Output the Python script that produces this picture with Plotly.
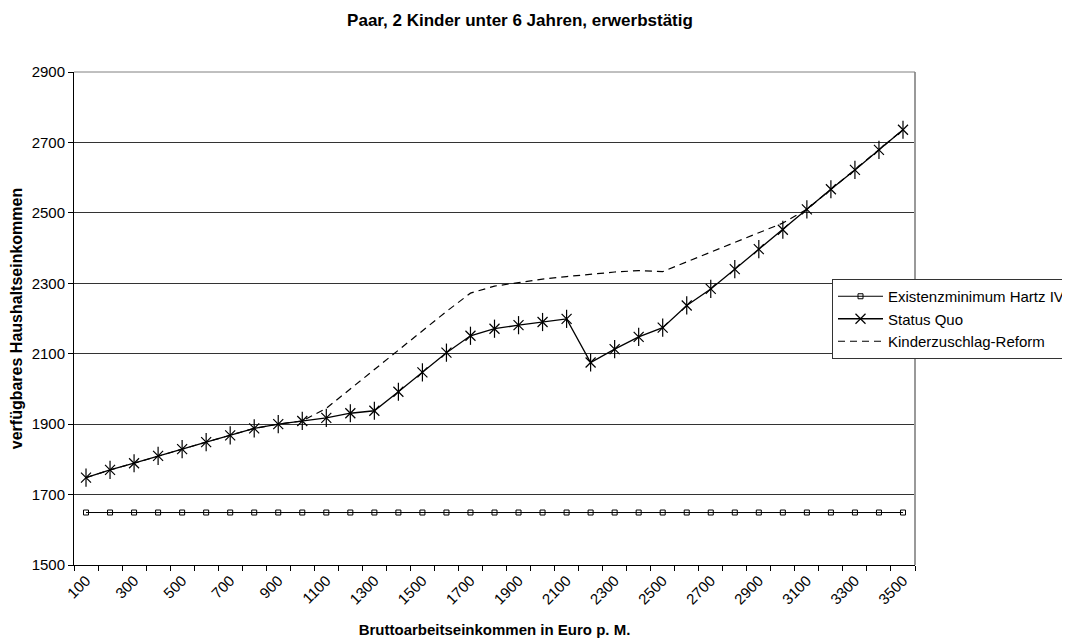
import plotly.graph_objects as go

categories = [str(v) for v in range(100, 3600, 100)]

hartz_iv = [1649] * 35

status_quo = [1748, 1770, 1789, 1810, 1829, 1849, 1868, 1888, 1900, 1909,
              1918, 1931, 1938, 1992, 2047, 2103, 2151, 2171, 2181, 2190,
              2199, 2075, 2113, 2148, 2174, 2237, 2284, 2340, 2397, 2452,
              2510, 2567, 2622, 2679, 2736]

reform = [1748, 1770, 1789, 1810, 1829, 1849, 1868, 1888, 1900, 1909,
          1945, 2000, 2055, 2110, 2165, 2220, 2272, 2292, 2302, 2312,
          2319, 2326, 2332, 2336, 2333, 2361, 2388, 2416, 2443, 2471,
          2510, 2567, 2622, 2679, 2736]

y_ticks = [1500, 1700, 1900, 2100, 2300, 2500, 2700, 2900]

xpos = list(range(len(categories)))
label_pos = xpos[::2]
label_text = categories[::2]

FONT = "Liberation Sans, Arial, sans-serif"

# page body has an 8px default margin; figure is offset accordingly
W, H = 1062, 634
L, T, R, B = 66, 64, 155, 77

fig = go.Figure()

fig.add_trace(go.Scatter(
    x=xpos, y=hartz_iv, mode="lines+markers", name="Existenzminimum Hartz IV",
    legendrank=1,
    line=dict(color="black", width=1),
    marker=dict(symbol="square-open", size=5, color="black", line=dict(width=1, color="black")),
))
fig.add_trace(go.Scatter(
    x=xpos, y=reform, mode="lines", name="Kinderzuschlag-Reform",
    legendrank=3,
    line=dict(color="black", width=1.2, dash="7px,5px"),
))
fig.add_trace(go.Scatter(
    x=xpos, y=status_quo, mode="lines+markers", name="Status Quo",
    legendrank=2,
    line=dict(color="black", width=1.3),
    marker=dict(symbol="x-thin-open", size=10, color="black", line=dict(width=1.2, color="black")),
))
fig.add_trace(go.Scatter(
    x=xpos, y=status_quo, mode="markers", showlegend=False, hoverinfo="skip",
    marker=dict(symbol="line-ns-open", size=13, color="black", line=dict(width=1.2, color="black")),
))

pw = W - L - R
ph = H - T - B

fig.update_layout(
    width=W, height=H,
    margin=dict(l=L, r=R, t=T, b=B, autoexpand=False),
    paper_bgcolor="white", plot_bgcolor="white",
    font=dict(family=FONT, size=15, color="black"),
    title=dict(text="<b>Paar, 2 Kinder unter 6 Jahren, erwerbstätig</b>",
               x=(520 - 8) / W, xanchor="center", y=1 - (20 - 8) / H, yanchor="middle",
               font=dict(family=FONT, size=17, color="black")),
    showlegend=True,
    legend=dict(x=(832 - 74) / pw, y=(565 - 279) / ph, xanchor="left", yanchor="top",
                bgcolor="white", bordercolor="#333", borderwidth=1,
                font=dict(family=FONT, size=15, color="black"),
                itemwidth=45, traceorder="normal"),
)

fig.update_xaxes(
    range=[-0.5, len(categories) - 0.5],
    tickmode="array", tickvals=label_pos, ticktext=label_text, tickangle=-45,
    ticks="", showgrid=False, zeroline=False,
    showline=True, linecolor="black", linewidth=1,
    tickfont=dict(family=FONT, size=15),
    minor=dict(tickmode="array", tickvals=[p - 0.5 for p in xpos] + [xpos[-1] + 0.5],
               ticks="outside", ticklen=5, tickcolor="black", showgrid=False),
    title=dict(text="<b>Bruttoarbeitseinkommen in Euro p. M.</b>", standoff=17,
               font=dict(family=FONT, size=15)),
)
fig.update_yaxes(
    range=[1500, 2900], tickmode="array", tickvals=y_ticks,
    ticks="outside", ticklen=5, tickcolor="black",
    showgrid=True, gridcolor="#333", gridwidth=1, zeroline=False,
    showline=True, linecolor="black", linewidth=1,
    tickfont=dict(family=FONT, size=15),
    title=dict(text="<b>verfügbares Haushaltseinkommen</b>", standoff=8,
               font=dict(family=FONT, size=16)),
)

# gray right and top border of plot area
fig.add_shape(type="line", xref="paper", yref="paper", x0=1, x1=1, y0=0, y1=1,
              line=dict(color="#999", width=2))
fig.add_shape(type="line", xref="paper", yref="paper", x0=0, x1=1, y0=1, y1=1,
              line=dict(color="#808080", width=1))

fig.write_html("out.html")
